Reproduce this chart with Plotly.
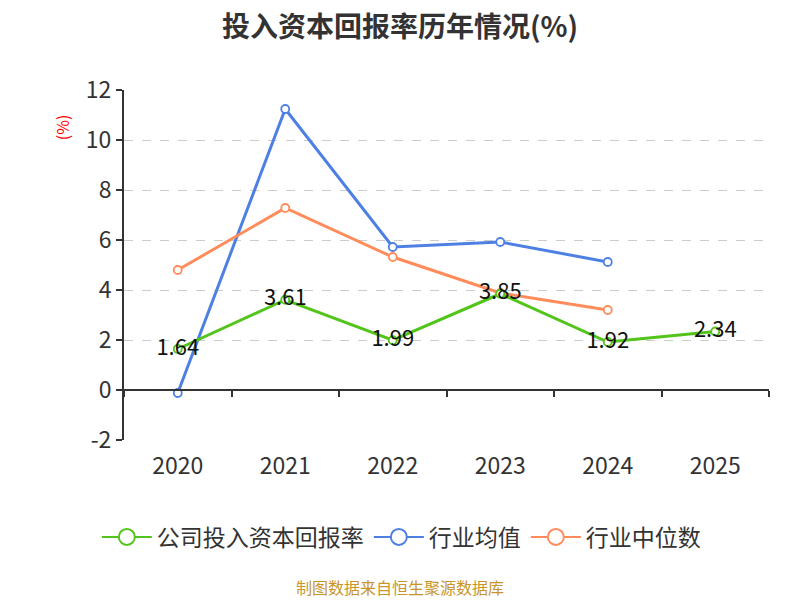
import plotly.graph_objects as go

years = ["2020", "2021", "2022", "2023", "2024", "2025"]
company_roic = [1.64, 3.61, 1.99, 3.85, 1.92, 2.34]
industry_avg = [-0.12, 11.24, 5.72, 5.92, 5.12, None]
industry_median = [4.8, 7.28, 5.32, 3.88, 3.2, None]
y_ticks = [-2, 0, 2, 4, 6, 8, 10, 12]
y_tick_labels = ["-2", "0", "2", "4", "6", "8", "10", "12"]

FONT = "Noto Sans CJK SC, Noto Sans, sans-serif"
GREEN = "#52c41a"
BLUE = "#4e80e4"
ORANGE = "#ff8c5a"

fig = go.Figure()


def line_trace(name, y, color, **kw):
    return go.Scatter(
        x=years, y=y, name=name, mode=kw.pop("mode", "lines+markers"),
        line=dict(color=color, width=3),
        marker=dict(symbol="circle", size=8, color="white",
                    line=dict(color=color, width=1.8)),
        showlegend=False, connectgaps=False, **kw)


fig.add_trace(line_trace("行业均值", industry_avg, BLUE))
fig.add_trace(line_trace("行业中位数", industry_median, ORANGE))
fig.add_trace(line_trace(
    "公司投入资本回报率", company_roic, GREEN,
    mode="lines+markers+text",
    text=[f"{v:.2f}" for v in company_roic],
    textposition="middle center",
    textfont=dict(size=22, color="#111111", family=FONT)))

# legend-only entries with bigger symbols
for name, color in [("公司投入资本回报率", GREEN), ("行业均值", BLUE), ("行业中位数", ORANGE)]:
    fig.add_trace(go.Scatter(
        x=[years[0]], y=[None], name=name, mode="lines+markers",
        line=dict(color=color, width=2),
        marker=dict(symbol="circle", size=18, color="white",
                    line=dict(color=color, width=2)),
        hoverinfo="skip"))

# x axis line sits at y = 0
zero_pos = 2 / 14

# page body has an 8px margin, so the plot box is shifted by 8px
fig.update_layout(
    width=800, height=600,
    margin=dict(l=116, r=39, t=82, b=168),
    paper_bgcolor="white", plot_bgcolor="white",
    font=dict(family=FONT, color="#333333"),
    showlegend=True,
    legend=dict(orientation="h", x=0.43, xanchor="center", y=-0.277, yanchor="middle",
                font=dict(size=23, color="#333333", family=FONT),
                itemwidth=50, traceorder="normal"),
    xaxis=dict(type="category", range=[-0.5, 5.5],
               showline=False, showgrid=False, zeroline=False, ticks="",
               tickfont=dict(size=23, color="#333333"), ticklabelstandoff=10),
    xaxis2=dict(type="category", range=[-0.5, 5.5], overlaying="x",
                anchor="free", position=zero_pos,
                showline=True, linecolor="#333333", linewidth=2,
                ticks="outside", tickson="boundaries", ticklen=6,
                tickcolor="#333333", tickwidth=2,
                showticklabels=False, showgrid=False),
    yaxis=dict(range=[-2, 12], tickmode="array", tickvals=y_ticks, ticktext=y_tick_labels,
               showline=True, linecolor="#333333", linewidth=2,
               ticks="outside", ticklen=6, tickcolor="#333333", tickwidth=2,
               showgrid=True, gridcolor="#cccccc", griddash="dash", gridwidth=1,
               zeroline=False, tickfont=dict(size=23, color="#333333")),
)

# dummy trace to make xaxis2 render
fig.add_trace(go.Scatter(x=years, y=[None] * len(years), xaxis="x2",
                         showlegend=False, hoverinfo="skip"))

fig.add_annotation(text="<b>投入资本回报率历年情况(%)</b>", xref="paper", yref="paper",
                   x=0.428, y=1.186, xanchor="center", yanchor="middle",
                   showarrow=False,
                   font=dict(size=28, color="#333333", family=FONT))
fig.add_annotation(text="(%)", xref="paper", yref="paper", x=-0.096, y=0.894,
                   xanchor="center", yanchor="middle",
                   showarrow=False, textangle=-90,
                   font=dict(size=16, color="#ff0000", family=FONT))
fig.add_annotation(text="制图数据来自恒生聚源数据库", xref="paper", yref="paper",
                   x=0.428, y=-0.42, xanchor="center", yanchor="middle",
                   showarrow=False,
                   font=dict(size=16, color="#c8952d", family=FONT))

fig.write_html("out.html")
